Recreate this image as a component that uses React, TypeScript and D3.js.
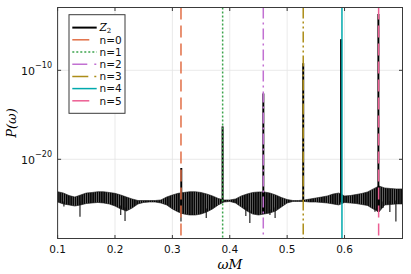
import React, { useEffect, useRef } from "react";
import * as d3 from "d3";

const W = 411;
const H = 274;

// Z_2 spectrum: upper / lower envelope of the fast oscillation, log10 P
const envOmega = [
  0.1, 0.11, 0.12, 0.13, 0.14, 0.15, 0.16, 0.17, 0.18, 0.19, 0.2, 0.21, 0.22, 0.23, 0.24, 0.25,
  0.26, 0.27, 0.28, 0.29, 0.3, 0.31, 0.32, 0.33, 0.34, 0.35, 0.36, 0.37, 0.38, 0.39, 0.4, 0.41,
  0.42, 0.43, 0.44, 0.45, 0.46, 0.47, 0.48, 0.49, 0.5, 0.51, 0.52, 0.53, 0.54, 0.55, 0.56, 0.57,
  0.58, 0.59, 0.6, 0.61, 0.62, 0.63, 0.64, 0.65, 0.66, 0.67, 0.68, 0.69, 0.701,
];
const envTop = [
  -23.64, -23.79, -24.07, -24.24, -24.01, -23.79, -23.73, -23.64, -23.64, -23.73, -23.82, -24.01,
  -24.24, -24.46, -24.63, -24.63, -24.63, -24.63, -24.57, -24.24, -24.01, -23.82, -23.73, -23.64,
  -23.64, -23.73, -23.9, -24.12, -24.4, -24.57, -24.57, -24.46, -24.12, -23.9, -23.73, -23.67,
  -23.67, -23.79, -24.01, -24.29, -24.52, -24.63, -24.63, -24.57, -24.46, -24.35, -24.24, -24.12,
  -23.9, -23.79, -24.12, -24.07, -23.96, -23.84, -23.67, -23.33, -23.0, -23.22, -23.28, -23.33,
  -23.33,
];
const envBottom = [
  -24.8, -25.02, -25.13, -25.25, -25.13, -24.97, -24.91, -24.85, -24.91, -25.02, -25.25, -25.58,
  -25.81, -25.47, -25.02, -24.85, -24.8, -24.8, -24.91, -25.13, -25.58, -25.92, -26.15, -26.26,
  -26.26, -26.15, -25.92, -25.58, -25.13, -24.8, -24.74, -24.91, -25.36, -25.81, -26.15, -26.26,
  -26.15, -26.03, -25.81, -25.36, -24.91, -24.74, -24.74, -24.74, -24.8, -24.8, -24.85, -24.91,
  -25.02, -25.13, -24.85, -24.91, -24.97, -25.08, -25.19, -25.58, -25.92, -25.13, -25.08, -25.02,
  -25.02,
];

// deep downward spikes of the oscillation
const dipOmega = [0.111, 0.139, 0.21, 0.2175, 0.315, 0.359, 0.428, 0.435, 0.47, 0.479, 0.653, 0.667, 0.679, 0.6895];
const dipLevel = [-25.3, -26.45, -26.26, -26.93, -27.0, -26.6, -26.37, -27.16, -26.26, -26.6, -25.9, -25.47, -25.92, -27.0];

// resonance peaks
const peakOmega = [0.3155, 0.3875, 0.4585, 0.528, 0.594, 0.659];
const peakLevel = [-20.98, -16.3, -12.6, -9.2, -6.5, -3.67];

// vertical mode lines
const modeLabels = ["n=0", "n=1", "n=2", "n=3", "n=4", "n=5"];
const modeOmega = [0.315, 0.3876, 0.4584, 0.528, 0.5955, 0.6594];
const modeColors = ["#e26f46", "#3da44d", "#c271d2", "#ac8d18", "#00a9ad", "#ed5e93"];
const modeDash = ["12,6", "2,2", "11,4,2,4", "11,3,2,3,2,3", null, "12,6"];
const legendDash = ["17,12", "2,2", "15,7,2,7", "16,6,2,7", null, "17,12"];

const xTicks = [0.1, 0.2, 0.3, 0.4, 0.5, 0.6];
const yTickExp = [-10, -20];

export default function App() {
  const ref = useRef<SVGSVGElement>(null);

  useEffect(() => {
    const svg = d3.select(ref.current);
    svg.selectAll("*").remove();

    const left = 57.6, right = 402.5, top = 7.5, bottom = 238.5;
    const x = d3.scaleLinear().domain([0.1, 0.701]).range([left, right]);
    const y = d3
      .scaleLog()
      .domain([Math.pow(10, -28.9), Math.pow(10, -2.94)])
      .range([bottom, top]);
    const ye = (e: number) => y(Math.pow(10, e));

    svg.append("rect").attr("width", W).attr("height", H).attr("fill", "white");

    // stripe texture for the fast oscillation band
    const pat = svg
      .append("defs")
      .append("pattern")
      .attr("id", "osc")
      .attr("patternUnits", "userSpaceOnUse")
      .attr("width", 2.2)
      .attr("height", 10);
    pat.append("rect").attr("width", 2.2).attr("height", 10).attr("fill", "#6a6a6a");
    pat.append("rect").attr("width", 1.4).attr("height", 10).attr("fill", "#000");

    // grid
    const grid = svg.append("g").attr("stroke", "#e4e4e4").attr("stroke-width", 0.8);
    xTicks.forEach((t) => {
      grid.append("line").attr("x1", x(t)).attr("x2", x(t)).attr("y1", top).attr("y2", bottom);
    });
    yTickExp.forEach((e) => {
      grid.append("line").attr("x1", left).attr("x2", right).attr("y1", ye(e)).attr("y2", ye(e));
    });

    const plot = svg.append("g");

    // Z_2 band
    const idx = d3.range(envOmega.length);
    const band = d3
      .area<number>()
      .x((i) => x(envOmega[i]))
      .y0((i) => ye(envBottom[i]))
      .y1((i) => ye(envTop[i]));
    plot
      .append("path")
      .datum(idx)
      .attr("d", band)
      .attr("fill", "url(#osc)")
      .attr("stroke", "#111")
      .attr("stroke-width", 0.6);

    const bis = d3.bisector((d: number) => d).left;
    const bottomAt = (w: number) => {
      const i = Math.min(envOmega.length - 1, Math.max(0, bis(envOmega, w)));
      return envBottom[i];
    };

    dipOmega.forEach((w, i) => {
      plot
        .append("line")
        .attr("x1", x(w))
        .attr("x2", x(w))
        .attr("y1", ye(bottomAt(w) + 0.4))
        .attr("y2", ye(dipLevel[i]))
        .attr("stroke", "#111")
        .attr("stroke-width", 1.1);
    });

    peakOmega.forEach((w, i) => {
      plot
        .append("line")
        .attr("x1", x(w))
        .attr("x2", x(w))
        .attr("y1", ye(bottomAt(w)))
        .attr("y2", ye(peakLevel[i]))
        .attr("stroke", "#000")
        .attr("stroke-width", 2);
    });

    // vertical mode lines
    modeOmega.forEach((w, i) => {
      plot
        .append("line")
        .attr("x1", x(w))
        .attr("x2", x(w))
        .attr("y1", top)
        .attr("y2", bottom)
        .attr("stroke", modeColors[i])
        .attr("stroke-width", 1.5)
        .attr("stroke-dasharray", modeDash[i]);
    });

    // frame + inward ticks
    const frame = svg.append("g").attr("stroke", "#3a3a3a").attr("stroke-width", 1).attr("fill", "none");
    frame.append("rect").attr("x", left).attr("y", top).attr("width", right - left).attr("height", bottom - top);
    xTicks.forEach((t) => {
      frame.append("line").attr("x1", x(t)).attr("x2", x(t)).attr("y1", bottom).attr("y2", bottom - 3.5);
      frame.append("line").attr("x1", x(t)).attr("x2", x(t)).attr("y1", top).attr("y2", top + 3.5);
    });
    yTickExp.forEach((e) => {
      frame.append("line").attr("x1", left).attr("x2", left + 3.5).attr("y1", ye(e)).attr("y2", ye(e));
      frame.append("line").attr("x1", right).attr("x2", right - 3.5).attr("y1", ye(e)).attr("y2", ye(e));
    });

    // tick labels
    const font = "DejaVu Sans, sans-serif";
    xTicks.forEach((t) => {
      svg
        .append("text")
        .attr("x", x(t))
        .attr("y", 253)
        .attr("text-anchor", "middle")
        .attr("font-family", font)
        .attr("font-size", 10.5)
        .attr("fill", "#111")
        .text(d3.format(".1f")(t));
    });
    yTickExp.forEach((e) => {
      const tx = svg
        .append("text")
        .attr("x", 52)
        .attr("y", ye(e) + 4.2)
        .attr("text-anchor", "end")
        .attr("font-family", font)
        .attr("font-size", 11)
        .attr("fill", "#111");
      tx.append("tspan").text("10");
      tx.append("tspan").attr("dy", -6.5).attr("font-size", 8).text("\u2212" + Math.abs(e));
    });

    // axis titles
    svg
      .append("text")
      .attr("x", 230)
      .attr("y", 268.5)
      .attr("text-anchor", "middle")
      .attr("font-family", "DejaVu Serif, serif")
      .attr("font-style", "italic")
      .attr("font-size", 13.5)
      .text("\u03c9M");
    svg
      .append("text")
      .attr("transform", `translate(16,${(top + bottom) / 2}) rotate(-90)`)
      .attr("text-anchor", "middle")
      .attr("font-family", "DejaVu Serif, serif")
      .attr("font-style", "italic")
      .attr("font-size", 13)
      .text("P(\u03c9)");

    // legend
    const lg = svg.append("g");
    lg.append("rect")
      .attr("x", 69)
      .attr("y", 14.7)
      .attr("width", 56)
      .attr("height", 98.6)
      .attr("fill", "white")
      .attr("stroke", "#3a3a3a")
      .attr("stroke-width", 1);
    const rowY = (i: number) => 27.6 + i * 12.2;
    lg.append("line")
      .attr("x1", 72.3).attr("x2", 96.7)
      .attr("y1", rowY(0)).attr("y2", rowY(0))
      .attr("stroke", "#000").attr("stroke-width", 2);
    const zt = lg
      .append("text")
      .attr("x", 99.5)
      .attr("y", rowY(0) + 3.5)
      .attr("font-family", "DejaVu Serif, serif")
      .attr("font-size", 10.5);
    zt.append("tspan").attr("font-style", "italic").text("Z");
    zt.append("tspan").attr("dy", 1.5).attr("font-size", 7).text("2");
    modeLabels.forEach((lab, i) => {
      const yy = rowY(i + 1);
      lg.append("line")
        .attr("x1", 72.3).attr("x2", 96.7)
        .attr("y1", yy).attr("y2", yy)
        .attr("stroke", modeColors[i])
        .attr("stroke-width", 1.5)
        .attr("stroke-dasharray", legendDash[i]);
      lg.append("text")
        .attr("x", 99.5)
        .attr("y", yy + 3.8)
        .attr("font-family", font)
        .attr("font-size", 10.5)
        .attr("fill", "#111")
        .text(lab);
    });
  }, []);

  return (
    <svg
      ref={ref}
      width={W}
      height={H}
      style={{ position: "absolute", left: 0, top: 0, display: "block" }}
    />
  );
}
